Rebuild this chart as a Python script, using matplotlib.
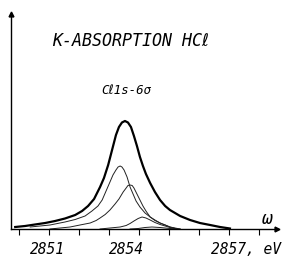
import numpy as np
import matplotlib
matplotlib.use("Agg")
import matplotlib.pyplot as plt

# photon energy (eV) and intensity (arb. units)
total_x = [2849.87, 2850.20, 2850.53, 2850.87, 2851.20, 2851.53, 2851.87, 2852.10,
           2852.30, 2852.50, 2852.70, 2852.83, 2852.97, 2853.10, 2853.23, 2853.33,
           2853.43, 2853.53, 2853.63, 2853.73, 2853.83, 2853.93, 2854.03, 2854.13,
           2854.23, 2854.37, 2854.53, 2854.70, 2854.87, 2855.03, 2855.37, 2855.70,
           2856.03, 2856.37, 2856.70, 2857.03]
total_y = [2, 3, 4.5, 6, 8, 10.5, 14, 18, 23, 30, 42, 51, 64, 79, 94, 102,
           106.5, 108, 106.5, 102, 93, 83, 72, 63, 55, 46, 37, 29, 23, 19, 13, 9,
           6, 4, 2, 0.5]

comp1_x = [2850.37, 2851.03, 2851.53, 2851.87, 2852.20, 2852.43, 2852.63, 2852.77,
           2852.90, 2853.03, 2853.13, 2853.23, 2853.30, 2853.37, 2853.43, 2853.50,
           2853.60, 2853.70, 2853.80, 2853.90, 2854.03, 2854.20, 2854.37, 2854.53,
           2854.70, 2854.87, 2855.03, 2855.27]
comp1_y = [2, 4, 7, 9.5, 13, 18, 23, 29, 38, 47, 54, 59, 62, 63, 62, 59,
           52, 42, 35, 28, 22, 16, 12, 9, 6, 4, 2, 0]

comp2_x = [2851.03, 2851.37, 2851.70, 2852.03, 2852.37, 2852.57, 2852.70, 2852.87,
           2853.03, 2853.20, 2853.33, 2853.47, 2853.57, 2853.63, 2853.70, 2853.77,
           2853.83, 2853.93, 2854.03, 2854.13, 2854.23, 2854.37, 2854.53, 2854.70,
           2854.87, 2855.03, 2855.37]
comp2_y = [0, 1, 2, 4, 6, 8.5, 11, 14.5, 19, 25, 30, 37, 41, 43.5, 44, 43.5,
           41, 35, 29, 23, 18, 12, 8.5, 6, 4, 2, 0]

comp3_x = [2852.70, 2853.03, 2853.37, 2853.57, 2853.70, 2853.83, 2853.97, 2854.10,
           2854.23, 2854.37, 2854.53, 2854.70, 2854.87, 2855.03, 2855.27]
comp3_y = [0, 1, 2, 3.5, 5.5, 8, 10.5, 12, 11, 9, 6.5, 4.5, 3, 1.5, 0]

comp4_x = [2853.70, 2853.97, 2854.20, 2854.43, 2854.70, 2855.03, 2855.37]
comp4_y = [0, 0.5, 1.5, 2, 1.5, 0.5, 0]

tick_pos = [2850, 2851, 2852, 2853, 2854, 2855, 2856, 2857, 2858]
label_pos = [2850.93, 2853.58, 2857.55]
label_txt = ["2851", "2854", "2857, eV"]

mono = ["DejaVu Sans Mono", "DejaVu Sans"]

fig = plt.figure(figsize=(2.83, 2.58), dpi=100)
ax = fig.add_axes([11 / 283, 29 / 258, 266 / 283, 215 / 258])

for xs, ys in [(comp1_x, comp1_y), (comp2_x, comp2_y), (comp3_x, comp3_y), (comp4_x, comp4_y)]:
    ax.plot(xs, ys, color="#222222", lw=0.7)
ax.plot(total_x, total_y, color="black", lw=1.6)

ax.set_xlim(2849.73, 2858.6)
ax.set_ylim(0, 215)

for s in ["top", "right"]:
    ax.spines[s].set_visible(False)
ax.spines["left"].set_linewidth(1.0)
ax.spines["bottom"].set_linewidth(1.0)
ax.plot(1, 0, ">", color="black", ms=3.5, transform=ax.transAxes, clip_on=False)
ax.plot(0, 1, "^", color="black", ms=3.5, transform=ax.transAxes, clip_on=False)

ax.set_yticks([])
ax.set_xticks(tick_pos, labels=[""] * len(tick_pos))
ax.tick_params(axis="x", which="major", direction="out", length=4, width=0.8)
ax.set_xticks(label_pos, labels=label_txt, minor=True)
ax.tick_params(axis="x", which="minor", length=0, pad=9)
for t in ax.get_xticklabels(minor=True):
    t.set_family(mono)
    t.set_fontsize(10.5)
    t.set_style("oblique")

ax.text(0.45, 0.875, "K-ABSORPTION HCℓ", transform=ax.transAxes, ha="center", va="center",
        fontsize=12, family=mono, style="oblique")
ax.text(0.432, 0.645, "Cℓ1s-6σ", transform=ax.transAxes, ha="center", va="center",
        fontsize=9, family=mono, style="oblique")
ax.text(0.965, 0.045, "ω", transform=ax.transAxes, ha="center", va="center",
        fontsize=13, family=mono, style="oblique")

fig.savefig("out.png", dpi=100)
